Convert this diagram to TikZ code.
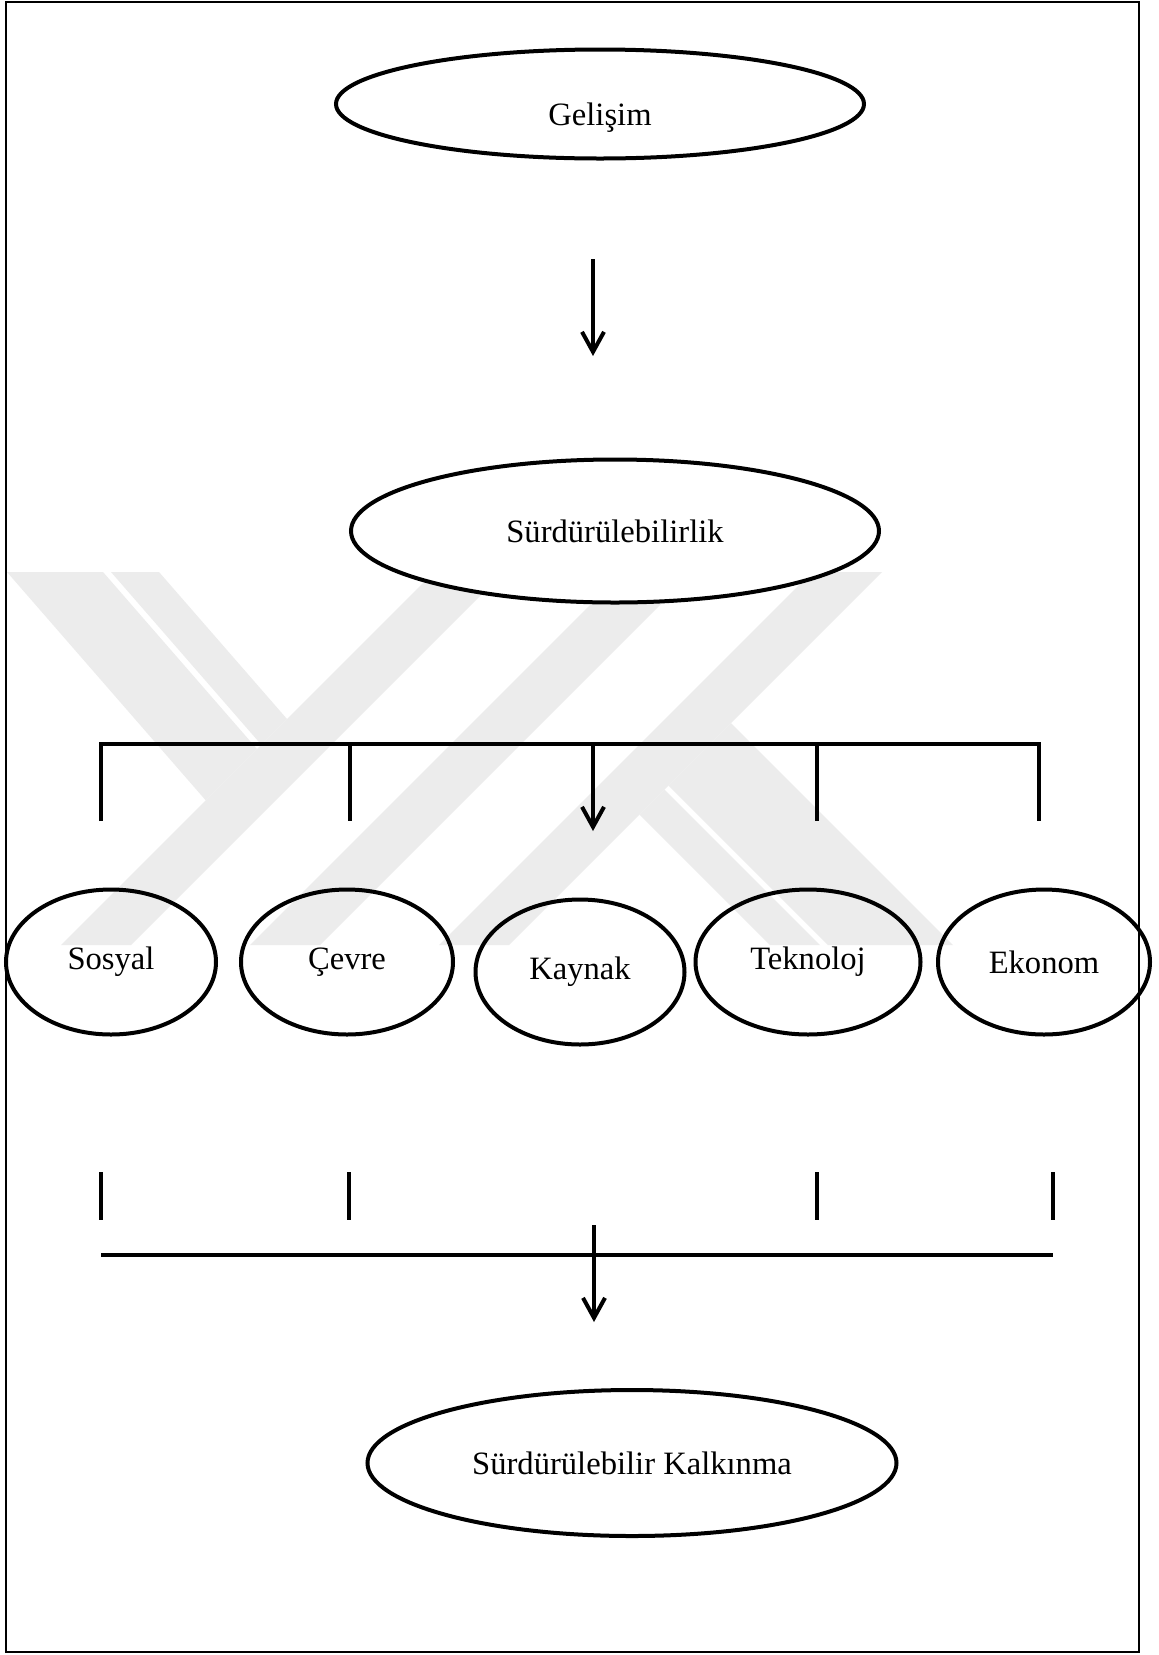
\documentclass[tikz,border=0pt]{standalone}
\usepackage{fontspec}
\setmainfont{Liberation Serif}
\usetikzlibrary{shapes.geometric,arrows.meta}
\definecolor{embgray}{gray}{0.925}
\begin{document}
\begin{tikzpicture}[x=0.5pt,y=-0.5pt,
  oval/.style={ellipse, draw, line width=2pt, inner sep=0pt,
    font=\fontsize{16.3pt}{19pt}\selectfont},
  bar/.style={line width=2pt, line join=miter},
  tick/.style={line width=1.7pt},
  flow/.style={line width=2pt, -{Straight Barb[length=10pt,width=11pt]}},
  emblem/.style={fill=embgray}]

\useasboundingbox (0,0) rectangle (1158,1655);
\fill[white] (0,0) rectangle (1158,1655);

% light background emblem made of slanted stripes
% left arm (two stripes) ending on the first long stroke
\fill[emblem] (7,572) -- (103,572) -- (257,749) -- (205.7,800.3) -- cycle;
\fill[emblem] (111,572) -- (159,572) -- (287,719) -- (261.3,744.7) -- cycle;
% long strokes
\fill[emblem] (434,572) -- (504,572) -- (131,945) -- (61,945) -- cycle;
\fill[emblem] (623,572) -- (693,572) -- (320,945) -- (250,945) -- cycle;
\fill[emblem] (812,572) -- (882,572) -- (509,945) -- (439,945) -- cycle;
% right leg (two stripes) leaving the last long stroke
\fill[emblem] (731,723) -- (953,945) -- (828,945) -- (668.5,785.5) -- cycle;
\fill[emblem] (664.5,789.5) -- (820,945) -- (770,945) -- (639.5,814.5) -- cycle;

% page frame
\draw[line width=1.1pt] (6,2) rectangle (1139,1652);

% main concepts
\node[oval, minimum width=264pt, minimum height=54.5pt, text height=25pt] (gelisim) at (600,104) {Gelişim};
\node[oval, fill=white, minimum width=264pt, minimum height=71.5pt] (surd) at (615,531) {Sürdürülebilirlik};
\node[oval, minimum width=264.5pt, minimum height=73pt] (kalkinma) at (632,1463) {Sürdürülebilir Kalkınma};

% dimensions
\node[oval, minimum width=105pt, minimum height=72.5pt] (sosyal) at (111,962) {Sosyal};
\node[oval, minimum width=106pt, minimum height=72.5pt] (cevre) at (347,962) {Çevre};
\node[oval, minimum width=104.5pt, minimum height=72.5pt] (kaynak) at (580,972) {Kaynak};
\node[oval, minimum width=112.5pt, minimum height=72.5pt] (tekno) at (808,962) {Teknoloj};
\node[oval, minimum width=106pt, minimum height=72.5pt] (ekonom) at (1044,962) {Ekonom};

% first arrow
\coordinate (a1s) at (593,259);
\coordinate (a1e) at (593,356);
\draw[flow] (a1s) -- (a1e);

% upper bracket
\coordinate (ub1) at (101,821);
\coordinate (ub1t) at (101,744);
\coordinate (ub5t) at (1039,744);
\coordinate (ub5) at (1039,821);
\coordinate (ub2t) at (350,744);
\coordinate (ub2) at (350,821);
\coordinate (ub4t) at (817,744);
\coordinate (ub4) at (817,821);
\coordinate (ubm) at (593,744);
\coordinate (ubme) at (593,831);
\draw[bar, line width=2.2pt] (ub1) -- (ub1t) -- (ub5t) -- (ub5);
\draw[bar] (ub2t) -- (ub2);
\draw[bar] (ub4t) -- (ub4);
\draw[flow] (ubm) -- (ubme);

% lower bracket
\coordinate (lt1a) at (101,1172); \coordinate (lt1b) at (101,1220);
\coordinate (lt2a) at (349,1172); \coordinate (lt2b) at (349,1220);
\coordinate (lt4a) at (817,1172); \coordinate (lt4b) at (817,1220);
\coordinate (lt5a) at (1053,1172); \coordinate (lt5b) at (1053,1220);
\draw[tick] (lt1a) -- (lt1b);
\draw[tick] (lt2a) -- (lt2b);
\draw[tick] (lt4a) -- (lt4b);
\draw[tick] (lt5a) -- (lt5b);
\coordinate (lbl) at (101,1255);
\coordinate (lbr) at (1053,1255);
\draw[bar, line width=2.2pt] (lbl) -- (lbr);
\coordinate (a3s) at (594,1225);
\coordinate (a3e) at (594,1322);
\draw[flow] (a3s) -- (a3e);
\end{tikzpicture}
\end{document}
